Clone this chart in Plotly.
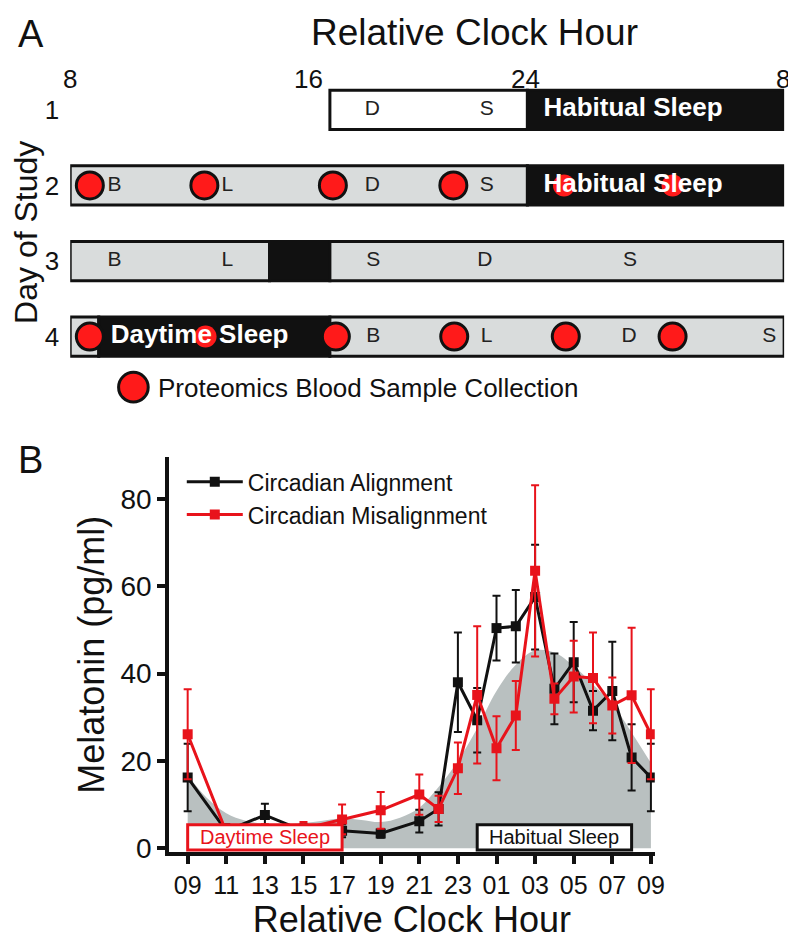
import plotly.graph_objects as go

# ---------- panel A: study protocol (schematic hours, 8 -> 32 = 08:00 next day)
seg_day = [1, 1, 2, 2, 3, 3, 3, 4, 4, 4]
seg_start = [16.73, 23.37, 8.0, 23.37, 8.0, 14.7, 16.73, 8.0, 8.96, 16.73]
seg_end = [23.37, 32.0, 23.37, 32.0, 14.7, 16.73, 32.0, 8.96, 16.73, 32.0]
seg_kind = ["wake1", "sleep", "wake", "sleep", "wake", "sleep", "wake", "wake", "sleep", "wake"]

meal_day = [1, 1, 2, 2, 2, 2, 3, 3, 3, 3, 3, 4, 4, 4, 4]
meal_hour = [18.16, 22.0, 9.49, 13.28, 18.16, 22.0, 9.49, 13.28, 18.19, 21.94, 26.82, 18.19, 22.0, 26.79, 31.5]
meal_label = ["D", "S", "B", "L", "D", "S", "B", "L", "S", "D", "S", "B", "L", "D", "S"]

sample_day = [2, 2, 2, 2, 4, 4, 4, 4, 4]
sample_hour = [8.66, 12.51, 16.83, 20.88, 8.66, 16.93, 20.91, 24.66, 28.25]
sleep_sample_day = [2, 2, 4]
sleep_sample_hour = [24.6, 28.25, 12.55]

sleep_label_day = [1, 2, 4]
sleep_label_hour = [26.92, 26.92, 12.35]
sleep_label = ["Habitual Sleep", "Habitual Sleep", "Daytime Sleep"]

clock_ticks = [8, 16, 23.3, 31.95]
clock_labels = ["8", "16", "24", "8"]
days = [1, 2, 3, 4]

# ---------- panel B: melatonin
hours = [0, 2, 4, 6, 8, 10, 12, 13, 14, 15, 16, 17, 18, 19, 20, 21, 22, 23, 24]
align_mean = [16.2, 4.0, 7.6, 4.0, 4.0, 3.4, 6.2, 9.0, 38.0, 29.3, 50.4, 50.8, 57.5, 36.5, 42.6, 31.5, 36.0, 20.8, 16.2]
align_sem = [7.7, 1.5, 2.6, 1.5, 1.5, 1.0, 2.6, 3.8, 11.4, 7.4, 7.4, 8.3, 12.0, 8.1, 9.2, 4.5, 11.3, 7.6, 7.7]
misalign_mean = [26.1, 3.7, 4.0, 4.5, 6.6, 8.7, 12.3, 9.0, 18.3, 35.1, 22.9, 30.4, 63.5, 34.2, 39.3, 39.0, 32.7, 35.0, 26.1]
misalign_sem = [10.3, 1.5, 1.5, 1.5, 3.4, 4.2, 4.6, 3.0, 5.9, 15.7, 7.3, 7.9, 19.6, 3.5, 8.2, 10.4, 6.4, 15.5, 10.3]

fit_hours = list(range(25))
fit_values = [16.8, 11.5, 8.0, 6.3, 5.6, 5.5, 5.8, 6.3, 6.8, 6.5, 6.0, 7.0, 9.3, 14.0, 20.0, 27.5,
              36.0, 42.0, 45.3, 44.8, 41.7, 37.5, 33.0, 26.5, 19.5]

hour_ticks = list(range(0, 25, 2))
hour_labels = ["09", "11", "13", "15", "17", "19", "21", "23", "01", "03", "05", "07", "09"]

W, H = 796, 952
SANS = "Liberation Sans, Arial, sans-serif"
RED = "#e8131b"
INK = "#111111"
kind_color = {"wake1": "white", "wake": "#d9dcdc", "sleep": INK}


def py(p):
    return 1 - p / H


def note(text, x, y, size, **kw):
    d = dict(text=text, x=x, y=y, xref="paper", yref="paper", showarrow=False,
             xanchor="center", yanchor="middle", font=dict(family=SANS, size=size, color=INK))
    d.update(kw)
    return d


fig = go.Figure()

# protocol bars
for d, s, e, k in zip(seg_day, seg_start, seg_end, seg_kind):
    fig.add_trace(go.Bar(
        y=[d], x=[e - s], base=[s], orientation="h", width=0.52,
        marker=dict(color=kind_color[k], line=dict(color=INK, width=3)),
        xaxis="x", yaxis="y", showlegend=False, hoverinfo="skip"))

fig.add_trace(go.Scatter(
    x=meal_hour, y=meal_day, mode="text", text=meal_label,
    textfont=dict(family=SANS, size=21, color="#222222"),
    xaxis="x", yaxis="y", showlegend=False))

fig.add_trace(go.Scatter(
    x=sleep_sample_hour, y=sleep_sample_day, mode="markers",
    marker=dict(size=22, color="#ff1a1a", line=dict(width=0)),
    xaxis="x", yaxis="y", showlegend=False))

fig.add_trace(go.Scatter(
    x=sleep_label_hour, y=sleep_label_day, mode="text", text=sleep_label,
    textfont=dict(family=SANS, size=26, color="white", weight="bold"),
    xaxis="x", yaxis="y", showlegend=False))

fig.add_trace(go.Scatter(
    x=sample_hour, y=sample_day, mode="markers",
    marker=dict(size=27, color="#ff1a1a", line=dict(color=INK, width=3)),
    xaxis="x", yaxis="y", showlegend=False))

# melatonin
fig.add_trace(go.Scatter(
    x=fit_hours, y=fit_values, mode="lines", line=dict(width=0, shape="spline"),
    fill="tozeroy", fillcolor="#b9c0c0", xaxis="x2", yaxis="y2",
    showlegend=False, hoverinfo="skip"))

fig.add_trace(go.Scatter(
    x=hours, y=align_mean, mode="lines+markers", name="Circadian Alignment",
    line=dict(color=INK, width=3), marker=dict(symbol="square", size=10, color=INK),
    error_y=dict(type="data", array=align_sem, color=INK, thickness=2, width=4),
    xaxis="x2", yaxis="y2"))

fig.add_trace(go.Scatter(
    x=hours, y=misalign_mean, mode="lines+markers", name="Circadian Misalignment",
    line=dict(color=RED, width=3), marker=dict(symbol="square", size=10, color=RED),
    error_y=dict(type="data", array=misalign_sem, color=RED, thickness=2, width=4),
    xaxis="x2", yaxis="y2"))

shapes = [
    dict(type="rect", xref="x2", yref="y2", x0=0, x1=8, y0=-0.4, y1=5.4,
         line=dict(color=RED, width=3), fillcolor="white", layer="above"),
    dict(type="rect", xref="x2", yref="y2", x0=15, x1=23, y0=-0.4, y1=5.4,
         line=dict(color=INK, width=3), fillcolor="white", layer="above"),
    dict(type="circle", xref="paper", yref="paper",
         x0=112 / W, x1=142 / W, y0=py(399), y1=py(369),
         line=dict(color=INK, width=3), fillcolor="#ff1a1a"),
]

annotations = [
    note("A", 8 / W, py(26), 38, xanchor="left"),
    note("B", 8 / W, py(458), 38, xanchor="left"),
    note("Relative Clock Hour", 472 / W, py(25), 37),
    note("Day of Study", 18 / W, py(227), 32, textangle=-90),
    note("Proteomics Blood Sample Collection", 150 / W, py(385), 26, xanchor="left"),
    dict(text="Daytime Sleep", x=4, y=2.5, xref="x2", yref="y2", showarrow=False,
         xanchor="center", yanchor="middle", font=dict(family=SANS, size=20, color=RED)),
    dict(text="Habitual Sleep", x=19, y=2.5, xref="x2", yref="y2", showarrow=False,
         xanchor="center", yanchor="middle", font=dict(family=SANS, size=20, color=INK)),
]
for t, lab in zip(clock_ticks, clock_labels):
    annotations.append(dict(text=lab, x=t, y=py(72), xref="x", yref="paper", showarrow=False,
                            xanchor="center", yanchor="middle",
                            font=dict(family=SANS, size=26, color=INK)))

fig.update_layout(
    width=W, height=H, margin=dict(l=0, r=0, t=0, b=0),
    paper_bgcolor="white", plot_bgcolor="white", barmode="overlay",
    shapes=shapes, annotations=annotations,
    xaxis=dict(domain=[63 / W, 786 / W], range=[8, 32], visible=False),
    yaxis=dict(domain=[py(371), py(65)], range=[4.5, 0.5], tickvals=days,
               ticktext=[str(d) for d in days], showgrid=False, zeroline=False,
               showline=False, ticks="", ticklabelstandoff=10,
               tickfont=dict(family=SANS, size=26, color=INK)),
    xaxis2=dict(domain=[163 / W, 655 / W], range=[-0.97, 24.2], anchor="y2",
                tickvals=hour_ticks, ticktext=hour_labels, showgrid=False, zeroline=False,
                showline=True, linewidth=3.5, linecolor=INK,
                ticks="outside", ticklen=8, tickwidth=3.5, tickcolor=INK,
                tickfont=dict(family=SANS, size=25, color=INK),
                title=dict(text="Relative Clock Hour", standoff=8,
                           font=dict(family=SANS, size=36, color=INK))),
    yaxis2=dict(domain=[py(855), py(455)], range=[-0.9, 89.5], anchor="x2",
                tickvals=[0, 20, 40, 60, 80], showgrid=False, zeroline=False,
                showline=True, linewidth=3.5, linecolor=INK,
                ticks="outside", ticklen=8, tickwidth=3.5, tickcolor=INK,
                tickfont=dict(family=SANS, size=28, color=INK),
                title=dict(text="Melatonin (pg/ml)", standoff=6,
                           font=dict(family=SANS, size=36, color=INK))),
    legend=dict(x=176 / W, y=py(458), xanchor="left", yanchor="top",
                bgcolor="rgba(0,0,0,0)", font=dict(family=SANS, size=23, color=INK),
                itemwidth=56, tracegroupgap=0),
)

fig.write_html("out.html")
